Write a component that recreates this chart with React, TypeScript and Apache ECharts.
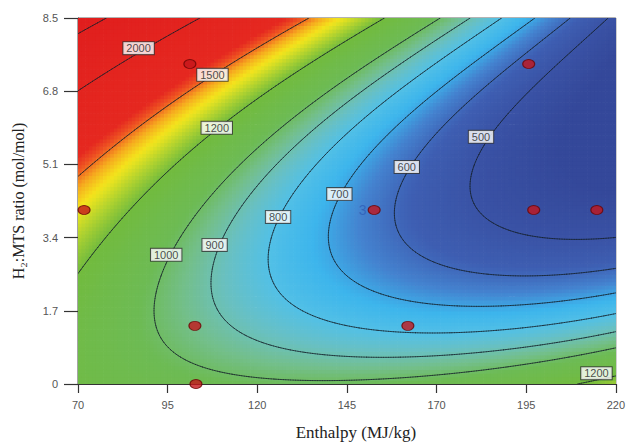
import React, { useEffect, useRef } from "react";
import * as echarts from "echarts";

// ---- axes ----
const X_MIN = 70;
const X_MAX = 220;
const X_STEP = 25;
const Y_MIN = 0;
const Y_MAX = 8.5;
const Y_STEP = 1.7;

// ---- design points (red dots) ----
const designX = [71.7, 101.2, 102.6, 102.9, 152.6, 162.0, 195.7, 197.1, 214.7];
const designY = [4.04, 7.43, 1.35, 0, 4.04, 1.35, 7.43, 4.04, 4.04];
const designReplicates = [1, 1, 1, 1, 3, 1, 1, 1, 1];

// ---- contour levels drawn ----
const contourLevels = [500, 600, 700, 800, 900, 1000, 1200, 1500, 2000, 2500];

// ---- points read along each contour of the picture (x: MJ/kg, y: mol/mol) ----
const trace500X = [217.0, 204.0, 181.9, 178.8, 179.1, 183.0, 195.7, 219.7];
const trace500Y = [8.5, 7.43, 5.6, 4.74, 4.11, 3.65, 3.34, 3.27];
const trace600X = [207.8, 166.4, 161.7, 158.4, 161.7, 177.5, 195.7, 219.7];
const trace600Y = [8.5, 5.9, 5.04, 3.88, 2.88, 2.81, 2.6, 2.6];
const trace700X = [197.6, 142.9, 140.2, 140.4, 145.1, 158.9, 186.6, 219.7];
const trace700Y = [8.5, 4.41, 3.41, 3.11, 2.42, 1.95, 1.88, 2.11];
const trace800X = [187.4, 130.0, 125.8, 123.0, 132.7, 161.7, 219.7];
const trace800Y = [8.5, 4.27, 3.88, 2.81, 1.72, 1.25, 1.65];
const trace900X = [179.1, 117.0, 108.1, 106.5, 108.7, 117.0, 132.7, 158.9, 219.7];
const trace900Y = [8.5, 4.27, 3.23, 2.42, 1.72, 1.09, 0.72, 0.6, 1.25];
const trace1000X = [170.8, 121.1, 107.8, 94.6, 90.7, 98.3, 110.6, 142.0, 149.8, 186.6, 219.7];
const trace1000Y = [8.5, 5.67, 4.27, 3.0, 1.79, 0.86, 0.33, 0.02, 0.05, 0.49, 0.86];
const trace1200X = [156.2, 124.7, 108.7, 102.6, 88.5, 70.0, 211.4, 219.7];
const trace1200Y = [8.5, 6.78, 5.95, 5.32, 4.25, 2.81, 0.02, 0.14];
const trace1500X = [134.1, 124.7, 107.5, 77.7, 70.0];
const trace1500Y = [8.45, 7.94, 7.18, 5.32, 4.81];
const trace2000X = [101.8, 86.9, 70.0];
const trace2000Y = [8.45, 7.8, 6.83];
const trace2500X = [76.4, 70.0];
const trace2500Y = [8.45, 8.1];
// values estimated from the shading where no contour passes
const shadeX = [72.0, 70.0, 215.0];
const shadeY = [0.8, 8.5, 5.5];
const shadeZ = [1120, 2700, 430];

// ---- contour labels ----
const labelText = ["2000", "1500", "1200", "1000", "900", "800", "700", "600", "500", "1200"];
const labelX = [86.9, 107.5, 108.7, 94.6, 108.1, 125.8, 142.9, 161.7, 182.4, 214.6];
const labelY = [7.8, 7.18, 5.95, 3.0, 3.23, 3.88, 4.41, 5.04, 5.74, 0.25];

// ---- colour scale (value -> colour) ----
const colorValues = [400, 500, 580, 650, 720, 800, 870, 940, 1020, 1200, 1290, 1370, 1450, 1530, 1600, 2600];
const colorHex = [
  "#34489a", "#3a53a6", "#3e5fb3", "#4482cf", "#3cb4ec", "#52c0e6", "#68c0c4", "#74bf90",
  "#6dbb55", "#72bb3e", "#b5d42e", "#f4e61c", "#f6aa1f", "#ee5222", "#e52820", "#e01e1e",
];

const traces: [number[], number[], number][] = [
  [trace500X, trace500Y, 500],
  [trace600X, trace600Y, 600],
  [trace700X, trace700Y, 700],
  [trace800X, trace800Y, 800],
  [trace900X, trace900Y, 900],
  [trace1000X, trace1000Y, 1000],
  [trace1200X, trace1200Y, 1200],
  [trace1500X, trace1500Y, 1500],
  [trace2000X, trace2000Y, 2000],
  [trace2500X, trace2500Y, 2500],
];

const DEG = 4;
function basis(x: number, y: number): number[] {
  const u = (x - 145) / 75;
  const v = (y - 4.25) / 4.25;
  const out: number[] = [];
  for (let d = 0; d <= DEG; d++) {
    for (let a = d; a >= 0; a--) out.push(Math.pow(u, a) * Math.pow(v, d - a));
  }
  return out;
}

function fitSurface(): number[] {
  const n = basis(0, 0).length;
  const M = Array.from({ length: n }, () => new Array(n + 1).fill(0));
  const add = (x: number, y: number, z: number, w: number) => {
    const b = basis(x, y);
    for (let i = 0; i < n; i++) {
      for (let j = 0; j < n; j++) M[i][j] += w * b[i] * b[j];
      M[i][n] += w * b[i] * z;
    }
  };
  traces.forEach(([xs, ys, L]) => xs.forEach((x, i) => add(x, ys[i], L, 1)));
  shadeX.forEach((x, i) => add(x, shadeY[i], shadeZ[i], 0.5));
  for (let i = 1; i < n; i++) M[i][i] += 0.02;
  for (let c = 0; c < n; c++) {
    let p = c;
    for (let r = c + 1; r < n; r++) if (Math.abs(M[r][c]) > Math.abs(M[p][c])) p = r;
    const t = M[c];
    M[c] = M[p];
    M[p] = t;
    for (let r = 0; r < n; r++) {
      if (r === c) continue;
      const f = M[r][c] / M[c][c];
      for (let k = c; k <= n; k++) M[r][k] -= f * M[c][k];
    }
  }
  return M.map((row, i) => row[n] / row[i]);
}

function hexToRgb(h: string) {
  return [parseInt(h.slice(1, 3), 16), parseInt(h.slice(3, 5), 16), parseInt(h.slice(5, 7), 16)];
}

function buildColorRamp(min: number, max: number, step: number): string[] {
  const out: string[] = [];
  for (let v = min; v <= max + 1e-9; v += step) {
    let k = 0;
    while (k < colorValues.length - 2 && v > colorValues[k + 1]) k++;
    const t = Math.max(0, Math.min(1, (v - colorValues[k]) / (colorValues[k + 1] - colorValues[k])));
    const a = hexToRgb(colorHex[k]);
    const b = hexToRgb(colorHex[k + 1]);
    const c = a.map((av, i) => Math.round(av + (b[i] - av) * t));
    out.push(`rgb(${c[0]},${c[1]},${c[2]})`);
  }
  return out;
}

export default function App() {
  const ref = useRef<HTMLDivElement>(null);

  useEffect(() => {
    if (!ref.current) return;
    const chart = echarts.init(ref.current, undefined, { renderer: "svg" });

    const coef = fitSurface();
    const zAt = (x: number, y: number) => {
      const b = basis(x, y);
      let s = 0;
      for (let i = 0; i < b.length; i++) s += coef[i] * b[i];
      return s;
    };

    const V_MIN = 400;
    const V_MAX = 2600;

    // surface cells
    const NX = 150;
    const NY = 100;
    const dx = (X_MAX - X_MIN) / NX;
    const dy = (Y_MAX - Y_MIN) / NY;
    const cells: number[][] = [];
    for (let i = 0; i < NX; i++) {
      for (let j = 0; j < NY; j++) {
        const x = X_MIN + (i + 0.5) * dx;
        const y = Y_MIN + (j + 0.5) * dy;
        const z = Math.max(V_MIN, Math.min(V_MAX, zAt(x, y)));
        cells.push([x, y, z]);
      }
    }

    // contour segments (marching squares)
    const CX = 220;
    const CY = 150;
    const gx = (i: number) => X_MIN + (i * (X_MAX - X_MIN)) / CX;
    const gy = (j: number) => Y_MIN + (j * (Y_MAX - Y_MIN)) / CY;
    const Z: number[][] = [];
    for (let i = 0; i <= CX; i++) {
      Z.push([]);
      for (let j = 0; j <= CY; j++) Z[i].push(zAt(gx(i), gy(j)));
    }
    const segments: number[][] = [];
    contourLevels.forEach((L) => {
      for (let i = 0; i < CX; i++) {
        for (let j = 0; j < CY; j++) {
          const corners: [number, number][] = [
            [i, j],
            [i + 1, j],
            [i + 1, j + 1],
            [i, j + 1],
          ];
          const pts: number[][] = [];
          for (let e = 0; e < 4; e++) {
            const [ai, aj] = corners[e];
            const [bi, bj] = corners[(e + 1) % 4];
            const za = Z[ai][aj] - L;
            const zb = Z[bi][bj] - L;
            if ((za < 0 && zb >= 0) || (za >= 0 && zb < 0)) {
              const t = za / (za - zb);
              const x = gx(ai) + (gx(bi) - gx(ai)) * t;
              const y = gy(aj) + (gy(bj) - gy(aj)) * t;
              pts.push([x, y]);
            }
          }
          if (pts.length === 2) segments.push([pts[0][0], pts[0][1], pts[1][0], pts[1][1]]);
          else if (pts.length === 4) {
            segments.push([pts[0][0], pts[0][1], pts[1][0], pts[1][1]]);
            segments.push([pts[2][0], pts[2][1], pts[3][0], pts[3][1]]);
          }
        }
      }
    });

    const labelData = labelText.map((t, i) => ({ name: t, value: [labelX[i], labelY[i]] }));
    const designData = designX.map((x, i) => {
      const item: any = { value: [x, designY[i]] };
      if (designReplicates[i] > 1) {
        item.label = {
          show: true,
          formatter: String(designReplicates[i]),
          position: "left",
          distance: 1,
          color: "#2e5fb8",
          fontSize: 14,
          fontFamily: "Liberation Sans",
        };
      }
      return item;
    });

    const option: any = {
      animation: false,
      backgroundColor: "#ffffff",
      grid: {
        left: 78,
        right: 7,
        top: 18,
        bottom: 64,
        show: true,
        borderColor: "#666",
        borderWidth: 1,
        backgroundColor: "transparent",
      },
      xAxis: {
        type: "value",
        min: X_MIN,
        max: X_MAX,
        interval: X_STEP,
        name: "Enthalpy (MJ/kg)",
        nameLocation: "middle",
        nameGap: 40,
        nameTextStyle: {
          fontFamily: "Liberation Serif",
          fontSize: 17,
          color: "#222",
          padding: [0, 0, 0, 18],
        },
        axisLine: { show: true, onZero: false, lineStyle: { color: "#333", width: 1.2 } },
        axisTick: { show: true, length: 9, lineStyle: { color: "#333", width: 1.2 } },
        axisLabel: { color: "#555", fontSize: 11, margin: 15, fontFamily: "Liberation Sans" },
        splitLine: { show: false },
      },
      yAxis: {
        type: "value",
        min: Y_MIN,
        max: Y_MAX,
        interval: Y_STEP,
        name: "H\u2082:MTS ratio (mol/mol)",
        nameLocation: "middle",
        nameGap: 52,
        nameTextStyle: { fontFamily: "Liberation Serif", fontSize: 16, color: "#222" },
        axisLine: { show: true, onZero: false, lineStyle: { color: "#333", width: 1.2 } },
        axisTick: { show: true, length: 14, lineStyle: { color: "#333", width: 1.2 } },
        axisLabel: {
          color: "#555",
          fontSize: 11,
          margin: 20,
          fontFamily: "Liberation Sans",
          formatter: (v: number) => String(Math.round(v * 10) / 10),
        },
        splitLine: { show: false },
      },
      visualMap: {
        type: "continuous",
        show: false,
        seriesIndex: 0,
        dimension: 2,
        min: V_MIN,
        max: V_MAX,
        inRange: { color: buildColorRamp(V_MIN, V_MAX, 25) },
      },
      series: [
        {
          type: "custom",
          name: "surface",
          silent: true,
          clip: true,
          z: 1,
          progressive: 0,
          encode: { x: 0, y: 1 },
          data: cells,
          renderItem: (params: any, api: any) => {
            const x = api.value(0);
            const y = api.value(1);
            const p0 = api.coord([x - dx / 2, y + dy / 2]);
            const p1 = api.coord([x + dx / 2, y - dy / 2]);
            return {
              type: "rect",
              shape: { x: p0[0], y: p0[1], width: p1[0] - p0[0] + 0.7, height: p1[1] - p0[1] + 0.7 },
              style: { fill: api.visual("color") },
            };
          },
        },
        {
          type: "custom",
          name: "contours",
          silent: true,
          clip: true,
          z: 2,
          progressive: 0,
          encode: { x: [0, 2], y: [1, 3] },
          data: segments,
          renderItem: (params: any, api: any) => {
            const a = api.coord([api.value(0), api.value(1)]);
            const b = api.coord([api.value(2), api.value(3)]);
            return {
              type: "line",
              shape: { x1: a[0], y1: a[1], x2: b[0], y2: b[1] },
              style: { stroke: "rgba(20,30,40,0.8)", lineWidth: 0.9, lineCap: "round" },
            };
          },
        },
        {
          type: "scatter",
          name: "labels",
          silent: true,
          z: 3,
          symbolSize: 1,
          itemStyle: { color: "rgba(0,0,0,0)" },
          data: labelData,
          label: {
            show: true,
            position: "inside",
            formatter: "{b}",
            color: "#222",
            fontSize: 11,
            fontFamily: "Liberation Sans",
            backgroundColor: "#ffffff",
            borderColor: "#333",
            borderWidth: 1,
            padding: [1, 3, 0, 3],
          },
        },
        {
          type: "scatter",
          name: "design",
          silent: true,
          z: 4,
          symbol: "circle",
          symbolSize: [12, 9],
          itemStyle: { color: "#c4161c", borderColor: "#6a0505", borderWidth: 1 },
          data: designData,
        },
      ],
    };

    chart.setOption(option);
    return () => chart.dispose();
  }, []);

  return (
    <div
      ref={ref}
      style={{ position: "absolute", left: 0, top: 0, width: 628, height: 448, background: "#fff" }}
    />
  );
}
